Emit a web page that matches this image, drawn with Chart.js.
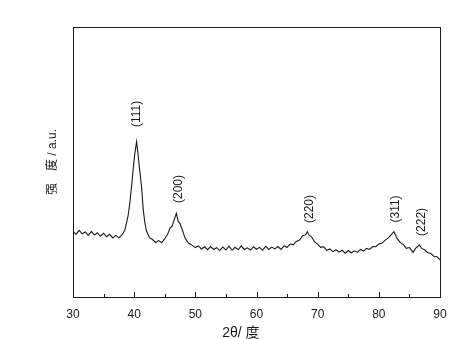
<!DOCTYPE html>
<html>
<head>
<meta charset="utf-8">
<script src="https://cdn.jsdelivr.net/npm/chart.js@4/dist/chart.umd.min.js"></script>
<style>
  html, body { margin: 0; padding: 0; background: #fff; }
  #wrap { width: 474px; height: 339px; }
</style>
</head>
<body>
<div id="wrap"><canvas id="xrdChart"></canvas></div>
<script>
// 2θ positions (deg) and intensity (a.u.)
const twoTheta = [
  30, 30.5, 31, 31.5, 32, 32.5, 33, 33.5, 34, 34.5, 35, 35.5, 36, 36.5, 37, 37.5, 38,
  38.25, 38.5, 38.8, 39, 39.3, 39.6, 39.85, 40.1, 40.4, 40.6, 40.85, 41.2, 41.5, 41.75, 42, 42.5, 43,
  43.5, 44, 44.5, 45, 45.5, 45.85, 46.2, 46.5, 46.9, 47.2, 47.5, 48, 48.3, 48.7, 49, 49.4,
  50, 50.5, 51, 51.5, 52, 52.5, 53, 53.5, 54, 54.5, 55, 55.5, 56, 56.5, 57, 57.5,
  58, 58.5, 59, 59.5, 60, 60.5, 61, 61.5, 62, 62.5, 63, 63.5, 64, 64.5, 65, 65.5,
  66, 66.5, 67, 67.5, 68, 68.3, 68.6, 69, 69.5, 70, 70.5, 71, 71.5, 72, 72.5, 73,
  73.5, 74, 74.5, 75, 75.5, 76, 76.5, 77, 77.5, 78, 78.5, 79, 79.5, 80, 80.5, 81,
  81.5, 82, 82.45, 82.8, 83, 83.5, 84, 84.5, 85, 85.6, 86, 86.3, 86.6, 87, 87.5, 88,
  88.5, 89, 89.5, 90
];
const intensity = [
  24.3, 23.2, 24.7, 23.4, 24.1, 22.8, 24.3, 23.0, 23.8, 22.5, 23.6, 22.3, 23.2, 21.9, 22.8, 21.9, 23.0,
  23.8, 25.0, 27.9, 30.0, 35.0, 41.5, 47.7, 53.0, 57.5, 53.5, 48.0, 41.0, 32.0, 27.5, 24.5, 22.0, 21.3,
  20.2, 20.9, 20.1, 21.6, 23.4, 25.4, 26.2, 28.3, 31.0, 28.0, 27.2, 24.0, 21.9, 20.5, 19.8, 19.3,
  18.3, 18.9, 17.8, 18.6, 17.5, 18.7, 17.6, 18.3, 17.2, 18.5, 17.4, 18.8, 17.3, 18.4, 17.5, 18.9,
  17.6, 18.2, 17.4, 18.6, 17.7, 18.4, 17.3, 18.8, 17.6, 18.5, 17.8, 18.7, 17.6, 18.9, 18.4, 19.6,
  19.3, 20.6, 21.0, 22.6, 23.0, 24.2, 22.9, 22.3, 20.4, 19.6, 18.4, 18.6, 17.3, 17.8, 16.8, 17.5,
  16.6, 17.3, 16.2, 17.2, 16.4, 17.1, 16.5, 17.6, 17.0, 18.0, 17.6, 18.7, 18.6, 19.6, 19.9, 21.0,
  21.8, 23.0, 24.2, 22.6, 21.6, 20.2, 19.4, 18.0, 18.3, 16.5, 18.0, 18.6, 19.3, 18.0, 17.5, 16.4,
  16.1, 15.1, 14.9, 13.8
];

// reflection labels and where they sit (2θ, intensity of label centre)
const peakNames = ['(111)', '(200)', '(220)', '(311)', '(222)'];
const peakTheta = [40.4, 47.2, 68.7, 82.7, 87.0];
const peakLabelY = [67.8, 40.0, 32.6, 32.6, 27.8];

// axis ticks
const majorTicks = [30, 40, 50, 60, 70, 80, 90];
const minorTicks = [35, 45, 55, 65, 75, 85];

const FONT = "'Liberation Sans', Arial, 'Noto Sans CJK SC', sans-serif";
const INK = '#1a1a1a';

// ── frame, inward ticks and peak labels ──
const decorPlugin = {
  id: 'decor',
  afterDraw(chart) {
    const { ctx, chartArea: a, scales: { x, y } } = chart;
    ctx.save();
    ctx.strokeStyle = INK;
    ctx.lineWidth = 1;
    ctx.strokeRect(a.left + 0.5, a.top + 0.5, a.right - a.left, a.bottom - a.top);

    ctx.beginPath();
    majorTicks.forEach(v => {
      const px = Math.round(x.getPixelForValue(v)) + 0.5;
      ctx.moveTo(px, a.bottom);
      ctx.lineTo(px, a.bottom - 5);
    });
    minorTicks.forEach(v => {
      const px = Math.round(x.getPixelForValue(v)) + 0.5;
      ctx.moveTo(px, a.bottom);
      ctx.lineTo(px, a.bottom - 3);
    });
    ctx.stroke();

    ctx.fillStyle = INK;
    ctx.font = '12px ' + FONT;
    ctx.textAlign = 'center';
    ctx.textBaseline = 'middle';
    peakNames.forEach((name, i) => {
      ctx.save();
      ctx.translate(x.getPixelForValue(peakTheta[i]), y.getPixelForValue(peakLabelY[i]));
      ctx.rotate(-Math.PI / 2);
      ctx.fillText(name, 0, 0);
      ctx.restore();
    });
    ctx.restore();
  }
};

new Chart(document.getElementById('xrdChart'), {
  type: 'line',
  data: {
    datasets: [{
      data: twoTheta.map((t, i) => ({ x: t, y: intensity[i] })),
      borderColor: INK,
      borderWidth: 1.1,
      pointRadius: 0,
      tension: 0,
      fill: false
    }]
  },
  options: {
    responsive: true,
    maintainAspectRatio: false,
    animation: false,
    layout: { padding: { left: 0, right: 34, top: 27, bottom: 0 } },
    plugins: {
      legend: { display: false },
      tooltip: { enabled: false }
    },
    scales: {
      x: {
        type: 'linear',
        min: 30,
        max: 90,
        grid: { display: false },
        border: { display: false },
        ticks: {
          stepSize: 10,
          padding: 2,
          color: INK,
          font: { family: FONT, size: 12 },
          maxRotation: 0
        },
        title: {
          display: true,
          text: '2θ/ 度        ',
          color: INK,
          font: { family: FONT, size: 14 },
          padding: { top: 0, bottom: -3 }
        },
        afterFit: scale => { scale.height = 42; }
      },
      y: {
        min: 0,
        max: 100,
        grid: { display: false },
        border: { display: false },
        ticks: { display: false },
        title: {
          display: true,
          text: '强\u3000度 / a.u.',
          color: INK,
          font: { family: FONT, size: 12 },
          padding: { top: 45, bottom: 0 }
        },
        afterFit: scale => { scale.width = 73; }
      }
    }
  },
  plugins: [decorPlugin]
});
</script>
</body>
</html>
